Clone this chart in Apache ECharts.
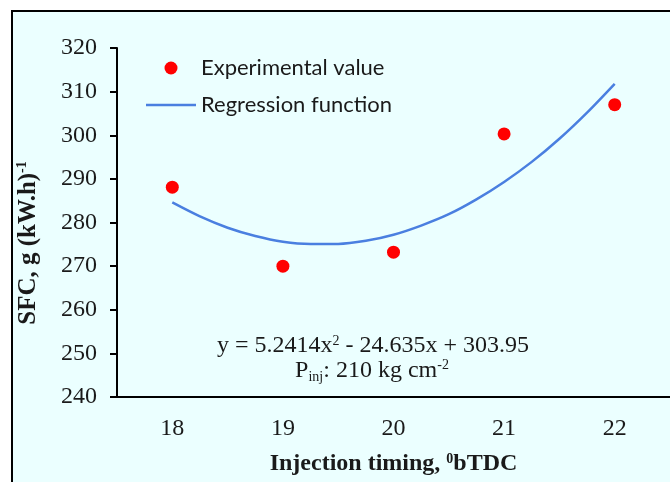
<!DOCTYPE html>
<html>
<head>
<meta charset="utf-8">
<script src="https://cdn.jsdelivr.net/npm/echarts@6/dist/echarts.min.js"></script>
<style>html,body{margin:0;padding:0;background:#fff;}#c{width:670px;height:482px;}</style>
</head>
<body>
<div id="c"></div>
<script>
const categories = ['18', '19', '20', '21', '22'];
const timingValues = [18, 19, 20, 21, 22];
const experimentalSFC = [288.1, 270.0, 273.2, 300.3, 307.0];
const regressionX = [18, 18.25, 18.5, 18.75, 19, 19.25, 19.5, 19.75, 20, 20.25, 20.5, 20.75, 21, 21.25, 21.5, 21.75, 22];
const regressionSFC = [284.6, 281.4, 278.8, 276.9, 275.6, 275.1, 275.1, 275.8, 277.2, 279.3, 281.9, 285.3, 289.3, 293.9, 299.2, 305.2, 311.8];
const yTicks = { min: 240, max: 320, interval: 10 };

const serif = '"Liberation Serif", "Times New Roman", serif';
const sans = 'Lato, "Noto Sans", sans-serif';
const ink = '#1a1a1a';

const chart = echarts.init(document.getElementById('c'));
chart.setOption({
  backgroundColor: '#ffffff',
  animation: false,
  graphic: [
    { type: 'rect', z: -10, silent: true, shape: { x: 12, y: 11, width: 700, height: 500 },
      style: { fill: '#EBFFFF', stroke: '#000', lineWidth: 2 } },
    { type: 'text', x: 28, y: 243, rotation: Math.PI / 2, z: 10,
      style: { text: '{t|SFC, g (kW.h)}{s|-1}', align: 'center', verticalAlign: 'middle',
        rich: { t: { fontFamily: serif, fontWeight: 'bold', fontSize: 25, fill: ink, verticalAlign: 'bottom', lineHeight: 26 },
                s: { fontFamily: serif, fontWeight: 'bold', fontSize: 14, fill: ink, verticalAlign: 'top', lineHeight: 26 } } } },
    { type: 'text', x: 373, y: 346, z: 10,
      style: { text: '{t|y = 5.2414x}{s|2}{t| - 24.635x + 303.95}', align: 'center', verticalAlign: 'middle',
        rich: { t: { fontFamily: serif, fontSize: 24, fill: ink, lineHeight: 24, verticalAlign: 'bottom' },
                s: { fontFamily: serif, fontSize: 14, fill: ink, lineHeight: 24, verticalAlign: 'top' } } } },
    { type: 'text', x: 372, y: 371, z: 10,
      style: { text: '{t|P}{b|inj}{t|: 210 kg cm}{s|-2}', align: 'center', verticalAlign: 'middle',
        rich: { t: { fontFamily: serif, fontSize: 24, fill: ink, lineHeight: 26, verticalAlign: 'middle' },
                b: { fontFamily: serif, fontSize: 14, fill: ink, lineHeight: 26, verticalAlign: 'bottom' },
                s: { fontFamily: serif, fontSize: 14, fill: ink, lineHeight: 26, verticalAlign: 'top' } } } }
  ],
  legend: {
    orient: 'vertical', left: 141, top: 52, itemWidth: 50, itemHeight: 13, itemGap: 15,
    textStyle: { fontFamily: sans, fontSize: 22, color: ink, lineHeight: 20 },
    data: [
      { name: 'Experimental value' },
      { name: 'Regression function', icon: 'path://M0,0H50V2.5H0Z' }
    ]
  },
  grid: { left: 117, right: 0, top: 48, bottom: 85, containLabel: false, outerBoundsMode: 'none' },
  xAxis: [
    { type: 'category', data: categories, boundaryGap: true,
      axisLine: { lineStyle: { color: '#000', width: 2 } },
      axisTick: { alignWithLabel: false, length: 7, inside: false, lineStyle: { color: '#000', width: 2 } },
      axisLabel: { fontFamily: serif, fontSize: 24, color: ink, margin: 20 },
      name: 'Injection timing, {s|0}bTDC', nameLocation: 'middle', nameGap: 55,
      nameTextStyle: { fontFamily: serif, fontWeight: 'bold', fontSize: 24, color: ink,
        rich: { s: { fontFamily: serif, fontWeight: 'bold', fontSize: 14, color: ink, verticalAlign: 'top' } } } },
    { type: 'value', min: 17.5, max: 22.5, show: false }
  ],
  yAxis: {
    type: 'value', min: yTicks.min, max: yTicks.max, interval: yTicks.interval,
    splitLine: { show: false },
    axisLine: { show: true, lineStyle: { color: '#000', width: 2 } },
    axisTick: { show: true, length: 7, lineStyle: { color: '#000', width: 2 } },
    axisLabel: { fontFamily: serif, fontSize: 24, color: ink, margin: 20 }
  },
  series: [
    { name: 'Experimental value', type: 'scatter', xAxisIndex: 1, symbol: 'circle', symbolSize: 13,
      itemStyle: { color: '#FF0000', opacity: 1 }, z: 5,
      data: timingValues.map((t, i) => [t, experimentalSFC[i]]) },
    { name: 'Regression function', type: 'line', xAxisIndex: 1, smooth: 0.3, showSymbol: false, symbol: 'none',
      lineStyle: { color: '#4A7FE0', width: 2.5 }, itemStyle: { color: '#4A7FE0' }, z: 4,
      data: regressionX.map((t, i) => [t, regressionSFC[i]]) }
  ]
});
</script>
</body>
</html>
